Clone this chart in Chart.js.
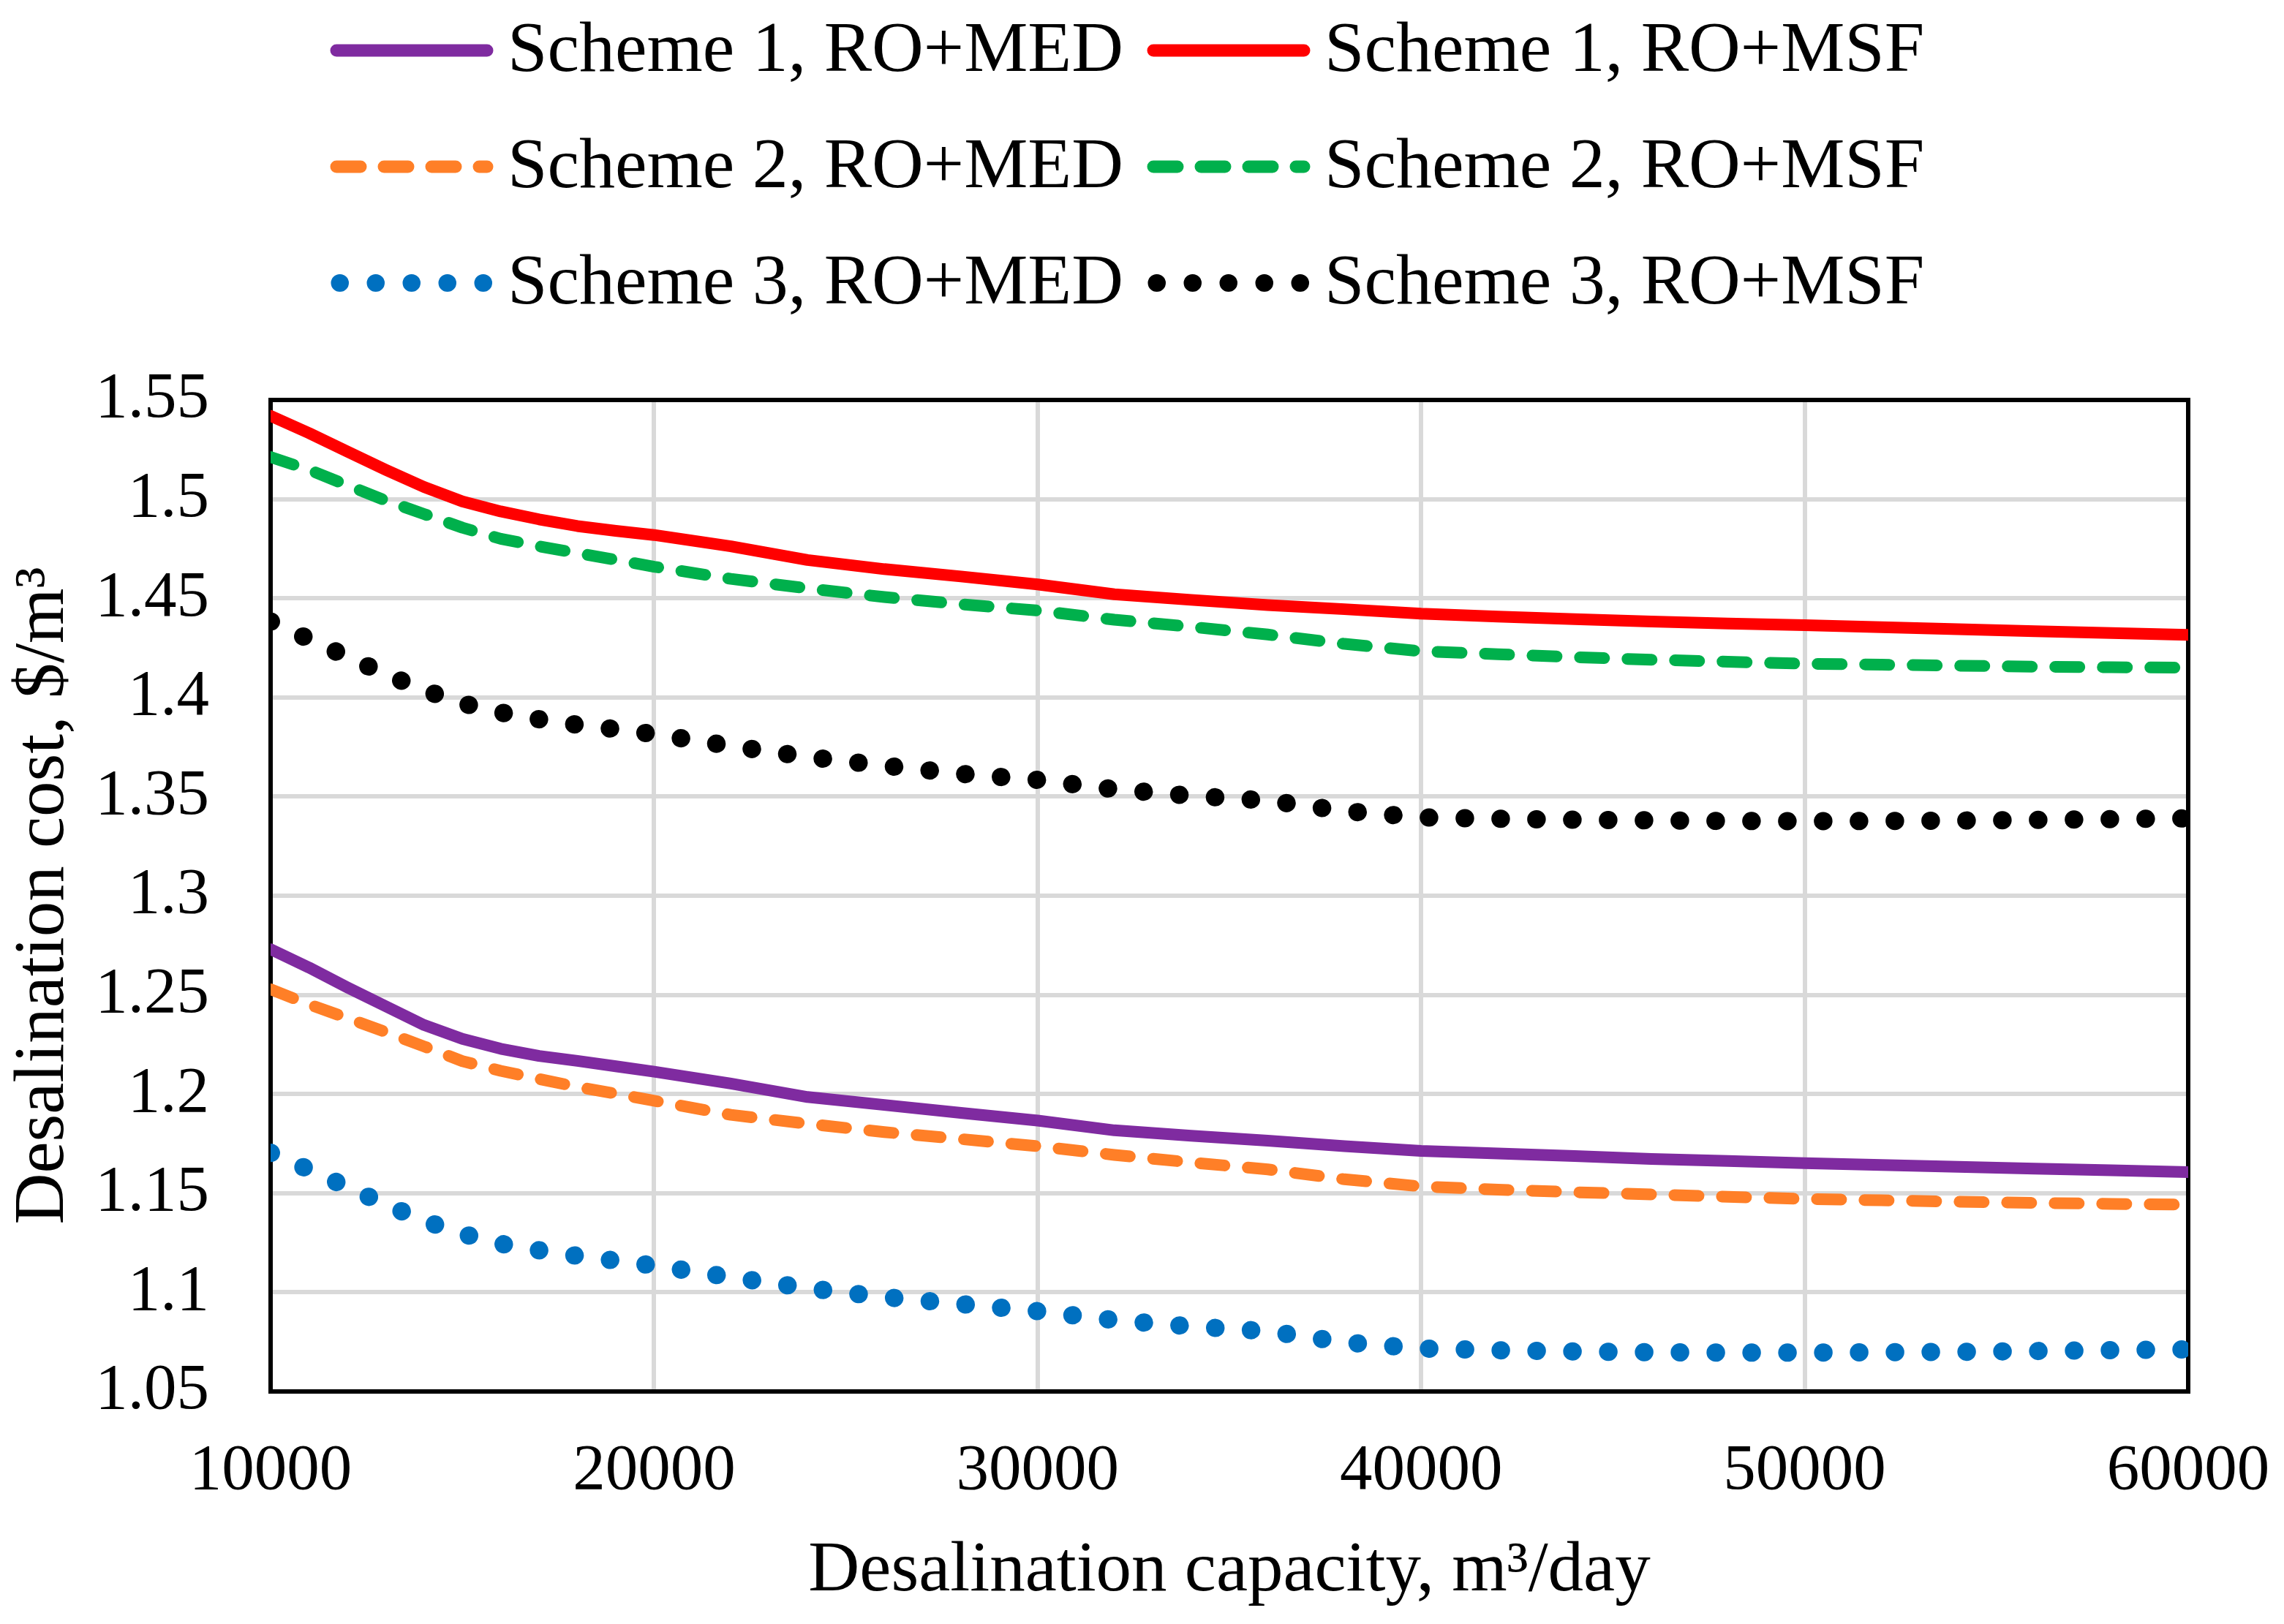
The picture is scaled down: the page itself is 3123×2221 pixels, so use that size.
<!DOCTYPE html>
<html>
<head>
<meta charset="utf-8">
<script src="https://cdn.jsdelivr.net/npm/chart.js@4.4.1/dist/chart.umd.min.js"></script>
<style>
  body { margin: 0; background: #fff; }
  canvas { display: block; }
</style>
</head>
<body>
<canvas id="grafico" width="3123" height="2221"></canvas>
<script>
// capacity, m3/day
const capacidade = [10000, 11000, 12000, 13000, 14000, 15000, 16000, 17000, 18000, 19000, 20000, 22000, 24000, 26000,
    28000, 30000, 32000, 34000, 36000, 38000, 40000, 42000, 44000, 46000, 48000, 50000, 52000, 54000, 56000, 58000, 60000];

// desalination cost, $/m3
const esquema1Med = [1.273, 1.2638, 1.2538, 1.2443, 1.2348, 1.2278, 1.2228, 1.2192, 1.2167, 1.2140, 1.2113, 1.2053, 1.1985,
    1.1945, 1.1905, 1.1866, 1.1817, 1.1790, 1.1765, 1.1737, 1.1713, 1.1700, 1.1687, 1.1673, 1.1662, 1.1651, 1.1642, 1.1633,
    1.1624, 1.1615, 1.1606];
const esquema1Msf = [1.542, 1.5333, 1.524, 1.5148, 1.5061, 1.4988, 1.4938, 1.4898, 1.4864, 1.4840, 1.4819, 1.4762, 1.4693,
    1.4647, 1.4610, 1.4570, 1.4520, 1.4492, 1.4466, 1.4445, 1.4422, 1.4408, 1.4395, 1.4383, 1.4373, 1.4364, 1.4354, 1.4344,
    1.4334, 1.4325, 1.4315];
const esquema2Med = [1.2528, 1.2452, 1.2383, 1.2313, 1.2240, 1.2166, 1.2117, 1.2076, 1.2036, 1.2002, 1.1966, 1.1895, 1.1850,
    1.1808, 1.1773, 1.1737, 1.1693, 1.1655, 1.1620, 1.1570, 1.1534, 1.1518, 1.1505, 1.1494, 1.1482, 1.1471, 1.1464, 1.1457,
    1.1451, 1.1446, 1.1442];
const esquema2Msf = [1.5212, 1.5148, 1.507, 1.4993, 1.4925, 1.4856, 1.4800, 1.4762, 1.4728, 1.4694, 1.4659, 1.4598, 1.4550,
    1.4506, 1.4470, 1.4438, 1.4392, 1.4356, 1.4317, 1.4270, 1.4233, 1.4218, 1.4203, 1.4190, 1.4180, 1.4170, 1.4165, 1.4160,
    1.4155, 1.4152, 1.4150];
const esquema3Med = [1.1704, 1.1619, 1.1531, 1.1443, 1.1361, 1.1295, 1.1245, 1.1212, 1.1184, 1.1160, 1.1135, 1.1076, 1.1021,
    1.0976, 1.0941, 1.0905, 1.0860, 1.0828, 1.0804, 1.0748, 1.0717, 1.0708, 1.0702, 1.0698, 1.0696, 1.0696, 1.0698, 1.0700,
    1.0704, 1.0708, 1.0712];
const esquema3Msf = [1.4383, 1.4294, 1.4205, 1.4117, 1.4037, 1.3970, 1.3924, 1.3890, 1.3862, 1.3840, 1.3815, 1.3755, 1.3700,
    1.3656, 1.3615, 1.3584, 1.3537, 1.3504, 1.3480, 1.3427, 1.3395, 1.3388, 1.3383, 1.3380, 1.3377, 1.3376, 1.3377, 1.3379,
    1.3382, 1.3386, 1.3390];

const rotulos = ["Scheme 1, RO+MED", "Scheme 1, RO+MSF", "Scheme 2, RO+MED", "Scheme 2, RO+MSF",
    "Scheme 3, RO+MED", "Scheme 3, RO+MSF"];

const ticksX = [10000, 20000, 30000, 40000, 50000, 60000];
const ticksY = [1.05, 1.1, 1.15, 1.2, 1.25, 1.3, 1.35, 1.4, 1.45, 1.5, 1.55];

const fonte = "'Liberation Serif', 'Times New Roman', serif";

function pontos(valores) {
    return capacidade.map((c, i) => ({ x: c, y: valores[i] }));
}

function serie(label, valores, cor, tipo) {
    const estilo = {
        solido: { borderWidth: 16, borderDash: [] },
        tracejado: { borderWidth: 16, borderDash: [33, 32] },
        pontilhado: { borderWidth: 25, borderDash: [0.5, 48.5] }
    }[tipo];
    return {
        label: label,
        data: pontos(valores),
        borderColor: cor,
        backgroundColor: cor,
        borderWidth: estilo.borderWidth,
        borderDash: estilo.borderDash,
        borderCapStyle: "round",
        borderJoinStyle: "round",
        pointRadius: 0,
        tension: 0,
        fill: false
    };
}

// Moldura da área do gráfico
const moldura = {
    id: "moldura",
    beforeDatasetsDraw(chart) {
        const a = chart.chartArea;
        const ctx = chart.ctx;
        ctx.save();
        ctx.strokeStyle = "#000";
        ctx.lineWidth = 6;
        ctx.strokeRect(a.left, a.top, a.right - a.left, a.bottom - a.top);
        ctx.restore();
    }
};

// Legenda em duas colunas
const legenda = {
    id: "legendaDuasColunas",
    afterDraw(chart) {
        const ctx = chart.ctx;
        const colunas = [452, 1569];
        const linhas = [69, 228, 387];
        const comprimento = 222;
        chart.data.datasets.forEach((ds, i) => {
            const x = colunas[i % 2];
            const y = linhas[Math.floor(i / 2)];
            const meio = ds.borderWidth / 2;
            ctx.save();
            ctx.strokeStyle = ds.borderColor;
            ctx.lineWidth = ds.borderWidth > 20 ? 24 : 17;
            ctx.setLineDash(ds.borderDash);
            ctx.lineCap = "round";
            ctx.beginPath();
            ctx.moveTo(x + meio, y);
            ctx.lineTo(x + comprimento - meio, y);
            ctx.stroke();
            ctx.setLineDash([]);
            ctx.fillStyle = "#000";
            ctx.font = "98px " + fonte;
            ctx.textBaseline = "middle";
            ctx.textAlign = "left";
            ctx.fillText(ds.label, x + 242, y + 2);
            ctx.restore();
        });
    }
};

const ctx = document.getElementById("grafico").getContext("2d");
new Chart(ctx, {
    type: "line",
    data: {
        datasets: [
            serie(rotulos[0], esquema1Med, "#7f2ba0", "solido"),
            serie(rotulos[1], esquema1Msf, "#ff0000", "solido"),
            serie(rotulos[2], esquema2Med, "#ff7f27", "tracejado"),
            serie(rotulos[3], esquema2Msf, "#00b04c", "tracejado"),
            serie(rotulos[4], esquema3Med, "#0070c0", "pontilhado"),
            serie(rotulos[5], esquema3Msf, "#000000", "pontilhado")
        ]
    },
    options: {
        responsive: false,
        devicePixelRatio: 1,
        animation: false,
        layout: { padding: { top: 547, right: 131, bottom: 0, left: 0 } },
        plugins: {
            legend: { display: false },
            tooltip: { enabled: false }
        },
        scales: {
            x: {
                type: "linear",
                min: 10000,
                max: 60000,
                afterFit(scale) {
                    scale.height = 318;
                    scale.paddingLeft = 0;
                    scale.paddingRight = 0;
                },
                afterBuildTicks(scale) { scale.ticks = ticksX.map(v => ({ value: v })); },
                grid: { color: "#d9d9d9", lineWidth: 6, drawTicks: false },
                border: { display: false },
                ticks: {
                    autoSkip: false,
                    maxRotation: 0,
                    padding: 56,
                    color: "#000",
                    font: { family: fonte, size: 89 },
                    callback: v => String(v)
                },
                title: {
                    display: true,
                    text: "Desalination capacity, m\u00b3/day",
                    color: "#000",
                    font: { family: fonte, size: 97 },
                    padding: { top: 0, bottom: 13 }
                }
            },
            y: {
                type: "linear",
                min: 1.05,
                max: 1.55,
                afterFit(scale) { scale.width = 370; },
                afterBuildTicks(scale) { scale.ticks = ticksY.map(v => ({ value: v })); },
                grid: { color: "#d9d9d9", lineWidth: 6, drawTicks: false },
                border: { display: false },
                ticks: {
                    padding: 84,
                    color: "#000",
                    font: { family: fonte, size: 89 },
                    callback: v => String(Number(v.toFixed(2)))
                },
                title: {
                    display: true,
                    text: "Desalination cost, $/m\u00b3",
                    color: "#000",
                    font: { family: fonte, size: 97 },
                    padding: { top: 2, bottom: 0 }
                }
            }
        }
    },
    plugins: [moldura, legenda]
});
</script>
</body>
</html>
